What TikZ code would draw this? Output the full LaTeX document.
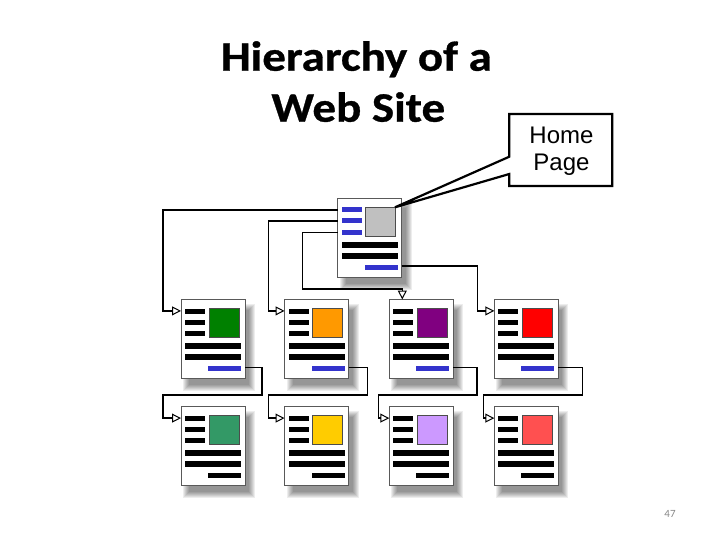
\documentclass[tikz,border=0pt]{standalone}
\usepackage{fontspec}
\setmainfont{Carlito}
\newfontfamily\titlefont{Carlito}[BoldFeatures={FakeStretch=1.12,FakeBold=0.8}]
\newfontfamily\arialfont{Liberation Sans}
\usetikzlibrary{arrows.meta,calc}
\definecolor{barblue}{RGB}{51,51,204}
\definecolor{sqgray}{RGB}{192,192,192}
\definecolor{sqgreen}{RGB}{0,128,0}
\definecolor{sqorange}{RGB}{255,153,0}
\definecolor{sqpurple}{RGB}{128,0,128}
\definecolor{sqred}{RGB}{255,0,0}
\definecolor{sqsea}{RGB}{51,153,102}
\definecolor{sqgold}{RGB}{255,204,0}
\definecolor{sqlav}{RGB}{204,153,255}
\definecolor{sqlred}{RGB}{255,80,80}
\definecolor{pagenum}{RGB}{136,136,136}
\tikzset{
  docbox/.style={draw=black!65, line width=0.8pt, fill=white, minimum width=64pt,
    minimum height=79pt, anchor=north west, inner sep=0pt, outer sep=0pt},
  conn/.style={line width=1.6pt, -{Triangle[open, length=9pt, width=9pt, line width=1pt]}},
  sqbox/.style={draw=black!70, line width=0.6pt},
  calloutline/.style={draw=black, line width=2.2pt, fill=white, line join=miter},
  titletext/.style={font=\titlefont\bfseries\fontsize{42}{51}\selectfont, anchor=base},
}
% #1 name, #2 x, #3 y, #4 square colour, #5 small bar colour, #6 bottom bar colour
\newcommand\webdoc[6]{%
  \begin{scope}[shift={(#2,#3)}]
    \foreach \s in {0,...,6} {\fill[black, opacity=0.07] (2+\s,4+\s) rectangle (74-\s,91-\s);}
    \node[docbox] (#1) at (0,0) {};
    \fill[#5] (4,9) rectangle (24,14);
    \fill[#5] (4,20) rectangle (24,25);
    \fill[#5] (4,31.5) rectangle (24,36.5);
    \filldraw[fill=#4, sqbox] (28,9) rectangle (58,38);
    \fill[black] (4,43.5) rectangle (60,49);
    \fill[black] (4,54) rectangle (60,60);
    \fill[#6] (27,66) rectangle (60,71.5);
  \end{scope}}
\begin{document}
\begin{tikzpicture}[x=1pt,y=-1pt]
\useasboundingbox (0,0) rectangle (720,540);
\fill[white] (0,0) rectangle (720,540);

% title
\node[titletext] (title1) at (356.5,70.7) {Hierarchy of a};
\node[titletext] (title2) at (358.3,121.7) {Web Site};

% documents
\webdoc{hp}{337.5}{198.5}{sqgray}{barblue}{barblue}
\webdoc{d1}{181}{299.5}{sqgreen}{black}{barblue}
\webdoc{d2}{284.5}{299.5}{sqorange}{black}{barblue}
\webdoc{d3}{389.3}{299.5}{sqpurple}{black}{barblue}
\webdoc{d4}{494.3}{299.5}{sqred}{black}{barblue}
\webdoc{d5}{181}{406.5}{sqsea}{black}{black}
\webdoc{d6}{284.5}{406.5}{sqgold}{black}{black}
\webdoc{d7}{389.3}{406.5}{sqlav}{black}{black}
\webdoc{d8}{494.3}{406.5}{sqlred}{black}{black}

% elbow points
\coordinate (e1) at (162.7,260);
\coordinate (e2) at (268.3,260);
\coordinate (e3) at (302.3,288.7);
\coordinate (e4) at (477.3,290);
\coordinate (r1) at (261.7,394.7);
\coordinate (r2) at (367.3,394.7);
\coordinate (r3) at (476.7,394.7);
\coordinate (r4) at (582.3,394.7);
\coordinate (l1) at (162.7,405);
\coordinate (l2) at (268.3,405);
\coordinate (l3) at (378.3,405);
\coordinate (l4) at (483.3,405);

% connectors from home page
\draw[conn] ([yshift=-11.5pt]hp.north west) -| (e1) |- ([yshift=-11.4pt]d1.north west);
\draw[conn] ([yshift=-22.5pt]hp.north west) -| (e2) |- ([yshift=-11.4pt]d2.north west);
\draw[conn] ([yshift=-34pt]hp.north west) -| (e3) -| ([xshift=13pt]d3.north west);
\draw[conn] ([yshift=-67.7pt]hp.north east) -| (e4) |- ([yshift=-11.4pt]d4.north west);

% connectors to second row
\draw[conn] ([yshift=-68pt]d1.north east) -| (r1) -| (l1) |- ([yshift=-11.6pt]d5.north west);
\draw[conn] ([yshift=-68pt]d2.north east) -| (r2) -| (l2) |- ([yshift=-11.6pt]d6.north west);
\draw[conn] ([yshift=-68pt]d3.north east) -| (r3) -| (l3) |- ([yshift=-11.6pt]d7.north west);
\draw[conn] ([yshift=-68pt]d4.north east) -| (r4) -| (l4) |- ([yshift=-11.6pt]d8.north west);

% callout
\coordinate (tip) at (395,207.3);
\draw[calloutline] (509.3,114) -- (612.3,114) -- (612.3,186) -- (509.3,186) -- (509.3,174)
  -- (tip) -- (509.3,156.7) -- cycle;
\node[font=\arialfont\fontsize{24}{26.7}\selectfont, align=center] (hptext) at (561.5,151) {Home\\Page};

% page number
\node[font=\fontsize{11}{13}\selectfont, text=pagenum, anchor=base] (pnum) at (670,517.3) {47};
\end{tikzpicture}
\end{document}
